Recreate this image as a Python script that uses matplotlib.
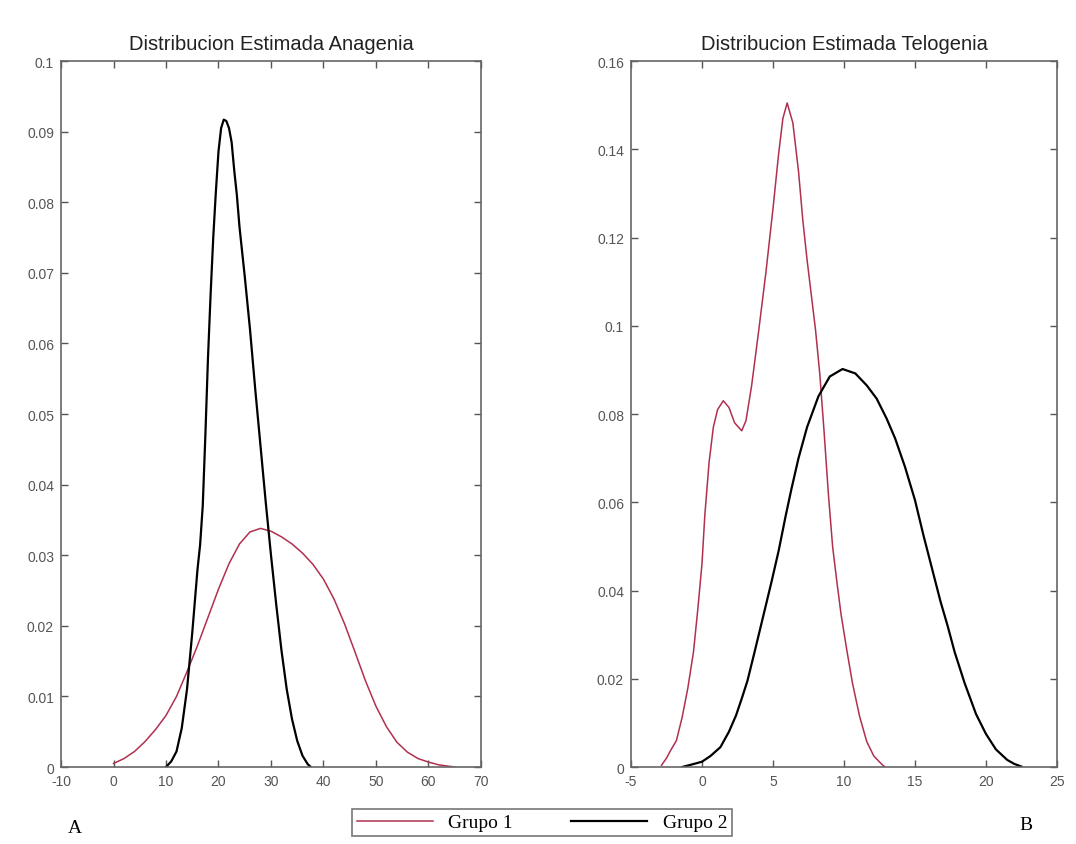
import matplotlib
matplotlib.use("Agg")
import matplotlib.pyplot as plt
from matplotlib.ticker import FormatStrFormatter, FuncFormatter

# --- Anagenia (panel A) ---
ana_x1 = [0, 2, 4, 6, 8, 10, 12, 14, 16, 18, 20, 22, 24, 26, 28, 30, 32, 34, 36, 38,
          40, 42, 44, 46, 48, 50, 52, 54, 56, 58, 60, 62, 64, 65]
ana_y1 = [0.0005, 0.0012, 0.0022, 0.0036, 0.0053, 0.0073, 0.0100, 0.0135, 0.0172, 0.0212,
          0.0252, 0.0288, 0.0316, 0.0333, 0.0338, 0.0334, 0.0326, 0.0316, 0.0303, 0.0287,
          0.0266, 0.0238, 0.0203, 0.0163, 0.0122, 0.0086, 0.0057, 0.0035, 0.0021, 0.0012,
          0.0007, 0.0003, 0.0001, 0.0]

ana_x2 = [10, 11, 12, 13, 14, 15, 16, 16.5, 17, 17.5, 18, 18.5, 19, 19.5, 20, 20.5, 21,
          21.5, 22, 22.5, 23, 23.5, 24, 25, 26, 27, 28, 29, 30, 31, 32, 33, 34, 35, 36,
          37, 37.6]
ana_y2 = [0.0, 0.0008, 0.0022, 0.0055, 0.011, 0.019, 0.028, 0.0315, 0.037, 0.047, 0.058,
          0.067, 0.075, 0.0815, 0.0872, 0.0905, 0.0917, 0.0915, 0.0905, 0.0885, 0.0845,
          0.081, 0.0765, 0.0695, 0.062, 0.0535, 0.0455, 0.0375, 0.030, 0.023, 0.0165,
          0.011, 0.0068, 0.0037, 0.0016, 0.0004, 0.0]

# --- Telogenia (panel B) ---
tel_x1 = [-2.85, -2.5, -2.2, -1.8, -1.4, -1.0, -0.6, -0.3, 0.0, 0.2, 0.5, 0.8, 1.1, 1.5,
          1.9, 2.3, 2.8, 3.1, 3.5, 4.0, 4.5, 5.0, 5.4, 5.7, 6.0, 6.4, 6.8, 7.1, 7.4, 7.7,
          8.0, 8.3, 8.6, 8.9, 9.2, 9.5, 9.8, 10.2, 10.6, 11.1, 11.6, 12.1, 12.7, 12.9]
tel_y1 = [0.0004, 0.002, 0.0038, 0.006, 0.0112, 0.0178, 0.026, 0.0355, 0.046, 0.057,
          0.069, 0.077, 0.081, 0.083, 0.0815, 0.078, 0.0762, 0.0785, 0.0865, 0.099,
          0.112, 0.1265, 0.139, 0.147, 0.1505, 0.146, 0.135, 0.124, 0.115, 0.107,
          0.099, 0.089, 0.076, 0.062, 0.050, 0.042, 0.0345, 0.0265, 0.019, 0.0115,
          0.0058, 0.0025, 0.0005, 0.0]

tel_x2 = [-1.4, -0.8, 0.0, 0.6, 1.3, 1.9, 2.4, 2.8, 3.2, 3.7, 4.3, 4.9, 5.4, 5.9, 6.3,
          6.8, 7.4, 8.2, 9.0, 9.9, 10.8, 11.6, 12.3, 13.0, 13.6, 14.3, 15.0, 15.6, 16.2,
          16.8, 17.3, 17.8, 18.5, 19.3, 20.0, 20.7, 21.5, 22.0, 22.5]
tel_y2 = [0.0, 0.0005, 0.0012, 0.0025, 0.0045, 0.008, 0.0117, 0.0155, 0.0195, 0.026,
          0.034, 0.042, 0.049, 0.057, 0.063, 0.070, 0.077, 0.084, 0.0885, 0.0902,
          0.0892, 0.0865, 0.0835, 0.079, 0.0745, 0.068, 0.0605, 0.0525, 0.045, 0.0375,
          0.032, 0.026, 0.019, 0.012, 0.0075, 0.004, 0.0016, 0.0007, 0.0001]

labels = ['Grupo 1', 'Grupo 2']
titles = ['Distribucion Estimada Anagenia', 'Distribucion Estimada Telogenia']

red = '#b0304f'
sans = ['Liberation Sans', 'DejaVu Sans']
serif = ['Liberation Serif', 'DejaVu Serif']

fig = plt.figure(figsize=(10.76, 8.45), dpi=100)
axA = fig.add_axes([0.0567, 0.0911, 0.3903, 0.8355])
axB = fig.add_axes([0.5864, 0.0911, 0.3959, 0.8355])

l1, = axA.plot(ana_x1, ana_y1, color=red, lw=1.1)
l2, = axA.plot(ana_x2, ana_y2, color='black', lw=1.6)
axB.plot(tel_x1, tel_y1, color=red, lw=1.1)
axB.plot(tel_x2, tel_y2, color='black', lw=1.6)

axA.set_xlim(-10, 70)
axA.set_ylim(0, 0.1)
axA.set_xticks(range(-10, 71, 10))
axA.set_yticks([i * 0.01 for i in range(11)])

axB.set_xlim(-5, 25)
axB.set_ylim(0, 0.16)
axB.set_xticks(range(-5, 26, 5))
axB.set_yticks([i * 0.02 for i in range(9)])

fmt = FuncFormatter(lambda v, p: ('%g' % round(v, 4)))
for ax, t in zip([axA, axB], titles):
    ax.yaxis.set_major_formatter(fmt)
    ax.xaxis.set_major_formatter(FormatStrFormatter('%d'))
    ax.tick_params(direction='in', length=5, width=1, color='#555555',
                   top=True, right=True, labelsize=10, labelcolor='#555555', pad=5)
    for lab in ax.get_xticklabels() + ax.get_yticklabels():
        lab.set_family(sans)
    for s in ax.spines.values():
        s.set_color('#666666')
        s.set_linewidth(1.2)
    ax.set_title(t, fontsize=14.5, family=sans, color='#222222', pad=9)

leg = fig.legend([l1, l2], labels, loc='center', bbox_to_anchor=(542 / 1076, 1 - 823.5 / 845),
                 ncol=2, frameon=True, fancybox=False, edgecolor='#555555',
                 prop={'family': serif, 'size': 14}, handlelength=3.9, handletextpad=0.8,
                 columnspacing=3.0, borderpad=0.25, borderaxespad=0)
leg.get_frame().set_linewidth(1.2)

fig.text(75 / 1076, 1 - 829 / 845, 'A', family=serif, fontsize=14, ha='center', va='center')
fig.text(1026 / 1076, 1 - 826 / 845, 'B', family=serif, fontsize=14, ha='center', va='center')

fig.savefig('out.png', dpi=100)
